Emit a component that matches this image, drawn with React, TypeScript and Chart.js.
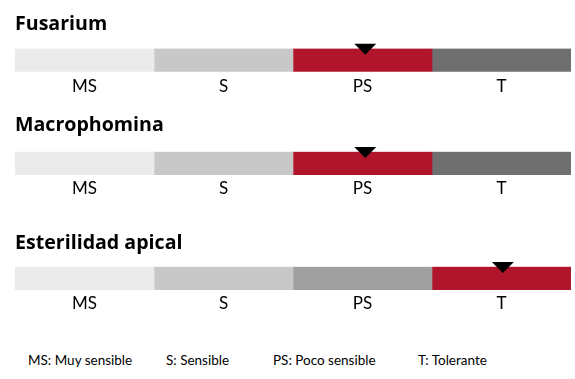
import React, { useEffect, useRef } from 'react';
import { Chart, registerables } from 'chart.js';

Chart.register(...registerables);

// ---- data ----
const diseases = ['Fusarium', 'Macrophomina', 'Esterilidad apical'];
const classes = ['MS', 'S', 'PS', 'T'];
const classShares = [1, 1, 1, 1];
const ratedClass = [2, 2, 3];
const markerValues = [2.52, 2.52, 3.51];
const legendItems = ['MS: Muy sensible', 'S: Sensible', 'PS: Poco sensible', 'T: Tolerante'];

// ---- styles / layout ----
const baseColors = ['#EBEBEB', '#C8C8C8', '#A0A0A0', '#6F6F6F'];
const ratedColor = '#B0152B';
const FONT = 'Lato, "Open Sans", sans-serif';
const TITLE_FONT = '"Open Sans", Lato, sans-serif';

const rows = [
  { top: 0, height: 104, titleTop: 14.9, titleBottom: 14, tickPad: 5, padBottom: 1.9 },
  { top: 100, height: 104, titleTop: 15.9, titleBottom: 16.2, tickPad: 3.5, padBottom: 1.6 },
  { top: 218, height: 100, titleTop: 15.4, titleBottom: 13.7, tickPad: 3.5, padBottom: 0.6 },
];
const legendLeft = [28, 166, 273, 418];
const legendTop = 352.8;

const markerPlugin = {
  id: 'ratingMarker',
  afterDatasetsDraw(chart: any, _args: any, opts: any) {
    const { ctx, scales } = chart;
    const bar = chart.getDatasetMeta(0).data[0];
    if (!bar) return;
    const props = bar.getProps(['y', 'height'], true);
    const top = props.y - props.height / 2;
    const x = scales.x.getPixelForValue(opts.value);
    ctx.save();
    ctx.fillStyle = '#000';
    ctx.beginPath();
    ctx.moveTo(x - 11, top - 4.7);
    ctx.lineTo(x + 11, top - 4.7);
    ctx.lineTo(x, top + 6.3);
    ctx.closePath();
    ctx.fill();
    ctx.restore();
  },
};

function RatingBar({ index }: { index: number }) {
  const ref = useRef<HTMLCanvasElement>(null);
  const row = rows[index];
  useEffect(() => {
    if (!ref.current) return;
    const chart = new Chart(ref.current, {
      type: 'bar',
      data: {
        labels: [diseases[index]],
        datasets: classes.map((c, i) => ({
          label: c,
          data: [classShares[i]],
          backgroundColor: i === ratedClass[index] ? ratedColor : baseColors[i],
          borderWidth: 0,
          categoryPercentage: 1,
          barPercentage: 1,
        })),
      },
      options: {
        indexAxis: 'y',
        animation: false,
        responsive: false,
        maintainAspectRatio: false,
        layout: { padding: { left: 15, right: 4, top: 0, bottom: row.padBottom } },
        scales: {
          x: {
            type: 'linear',
            stacked: true,
            min: 0,
            max: classShares.reduce((a, b) => a + b, 0),
            grid: { display: false, drawTicks: false },
            border: { display: false },
            afterBuildTicks: (axis: any) => {
              let acc = 0;
              axis.ticks = classShares.map((v) => {
                const t = { value: acc + v / 2 };
                acc += v;
                return t;
              });
            },
            ticks: {
              padding: row.tickPad,
              color: '#000',
              font: { family: FONT, size: 17 },
              autoSkip: false,
              maxRotation: 0,
              callback: (_v: any, i: number) => classes[i],
            },
          },
          y: { stacked: true, display: false },
        },
        plugins: {
          legend: { display: false },
          tooltip: { enabled: false },
          title: {
            display: true,
            text: diseases[index],
            align: 'start',
            color: '#000',
            font: { family: TITLE_FONT, size: 19.6, weight: 'bold', lineHeight: 1 },
            padding: { top: row.titleTop, bottom: row.titleBottom },
          },
          ratingMarker: { value: markerValues[index] },
        } as any,
      },
      plugins: [markerPlugin],
    } as any);
    return () => chart.destroy();
  }, [index]);
  return (
    <canvas
      ref={ref}
      width={575}
      height={row.height}
      style={{ position: 'absolute', left: 0, top: row.top, width: 575, height: row.height }}
    />
  );
}

export default function App() {
  return (
    <div
      style={{
        position: 'fixed',
        left: 0,
        top: 0,
        width: 575,
        height: 379,
        background: '#fff',
        overflow: 'hidden',
      }}
    >
      {diseases.map((_, i) => (
        <RatingBar key={i} index={i} />
      ))}
      {legendItems.map((t, i) => (
        <div
          key={t}
          style={{
            position: 'absolute',
            left: legendLeft[i],
            top: legendTop,
            fontFamily: FONT,
            fontSize: 13.5,
            lineHeight: '14px',
            color: '#000',
            whiteSpace: 'nowrap',
          }}
        >
          {t}
        </div>
      ))}
    </div>
  );
}
